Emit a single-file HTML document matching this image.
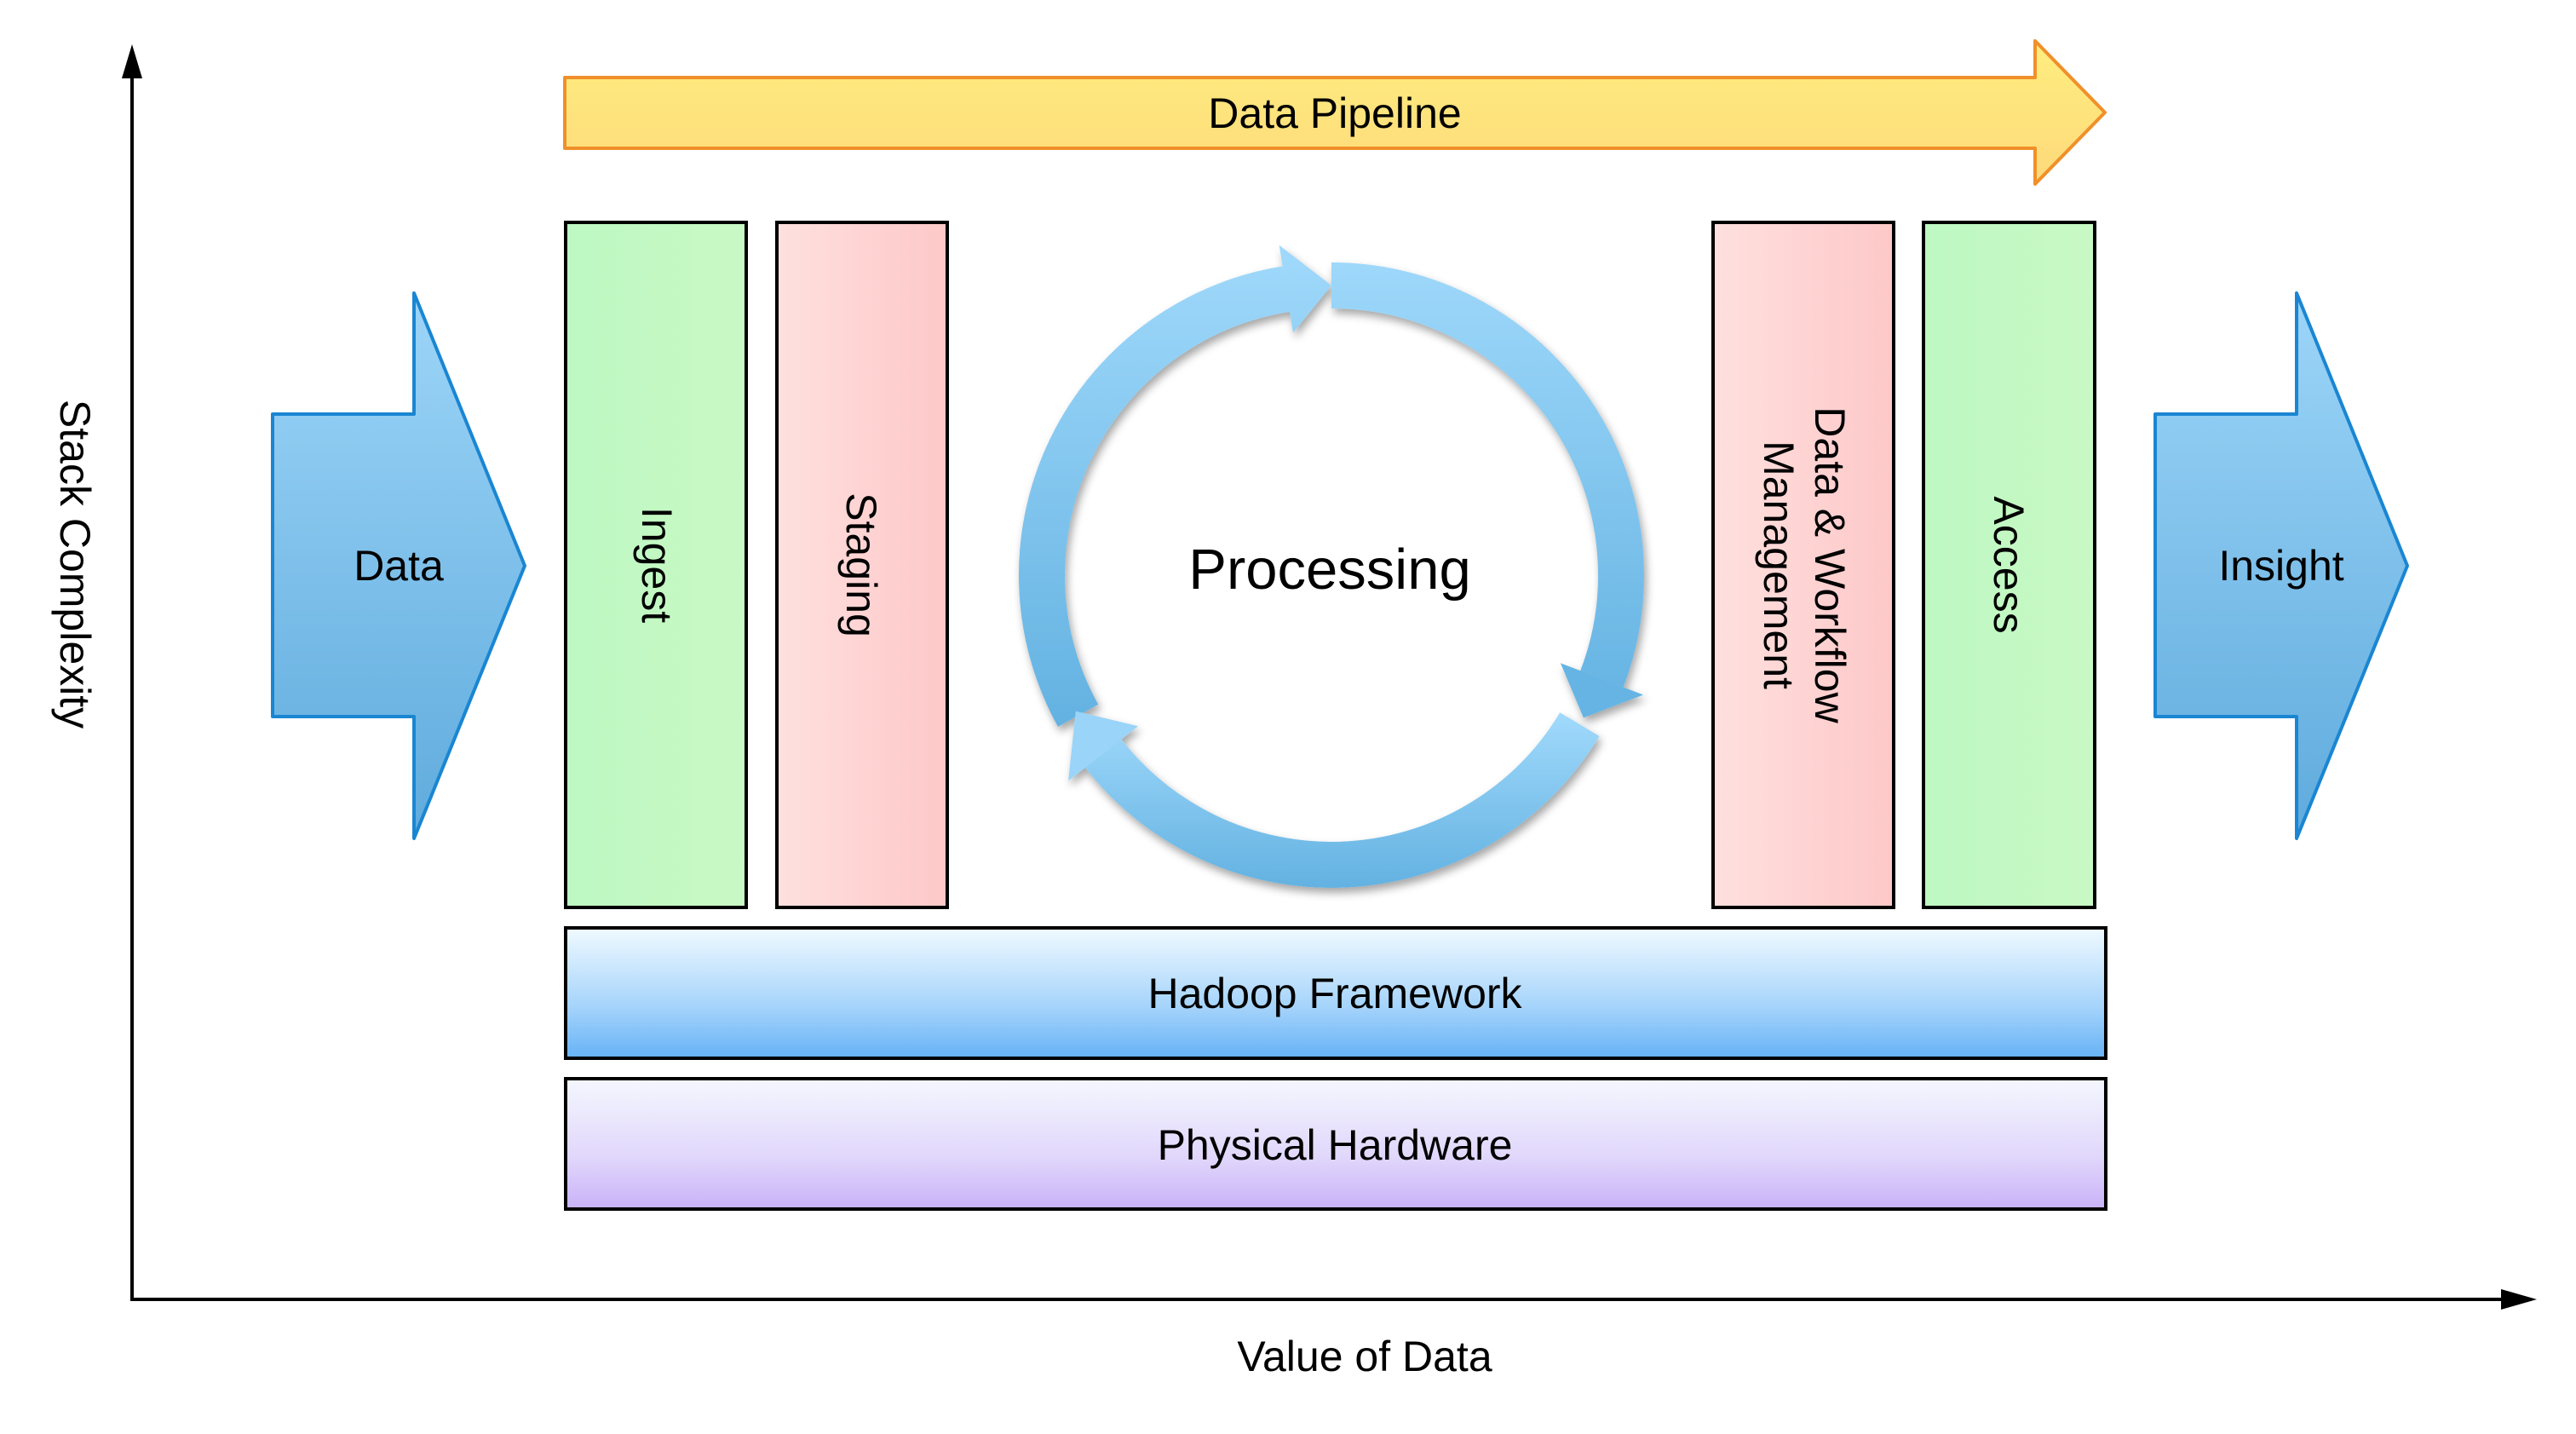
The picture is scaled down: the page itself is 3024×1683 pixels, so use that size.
<!DOCTYPE html>
<html><head><meta charset="utf-8"><style>
html,body{margin:0;padding:0;background:#fff;}
svg{display:block;}
text{font-family:"Liberation Sans",Arial,sans-serif;fill:#000;}
</style></head><body>
<svg width="3024" height="1683" viewBox="0 0 3024 1683" xmlns="http://www.w3.org/2000/svg">
<defs>
<linearGradient id="yel" x1="0" y1="0" x2="0" y2="1"><stop offset="0" stop-color="#ffee80"/><stop offset="1" stop-color="#fdd97a"/></linearGradient>
<linearGradient id="grn" x1="0" y1="0" x2="1" y2="0"><stop offset="0" stop-color="#bdf8c2"/><stop offset="1" stop-color="#c9f9c4"/></linearGradient>
<linearGradient id="pnk" x1="0" y1="0" x2="1" y2="0"><stop offset="0" stop-color="#fee0de"/><stop offset="1" stop-color="#fdc8c8"/></linearGradient>
<linearGradient id="hb" x1="0" y1="0" x2="0" y2="1"><stop offset="0" stop-color="#f0faff"/><stop offset="0.6" stop-color="#a6d4fb"/><stop offset="1" stop-color="#66b2f6"/></linearGradient>
<linearGradient id="pur" x1="0" y1="0" x2="0" y2="1"><stop offset="0" stop-color="#f4f7fe"/><stop offset="0.6" stop-color="#e1d7fb"/><stop offset="1" stop-color="#c9b2f8"/></linearGradient>
<linearGradient id="blk" x1="0" y1="0" x2="0" y2="1"><stop offset="0" stop-color="#9dd5f8"/><stop offset="1" stop-color="#5fabdd"/></linearGradient>
<linearGradient id="ca" gradientUnits="userSpaceOnUse" x1="0" y1="290" x2="0" y2="860"><stop offset="0" stop-color="#a0d9fb"/><stop offset="1" stop-color="#62b1e1"/></linearGradient>
<linearGradient id="cb" gradientUnits="userSpaceOnUse" x1="0" y1="290" x2="0" y2="860"><stop offset="0" stop-color="#a0d9fb"/><stop offset="1" stop-color="#62b1e1"/></linearGradient>
<linearGradient id="cc" gradientUnits="userSpaceOnUse" x1="0" y1="840" x2="0" y2="1045"><stop offset="0" stop-color="#a0d9fb"/><stop offset="1" stop-color="#62b1e1"/></linearGradient>
<filter id="sh" x="-10%" y="-10%" width="120%" height="120%"><feDropShadow dx="3" dy="6" stdDeviation="5" flood-color="#000" flood-opacity="0.35"/></filter>
</defs>

<line x1="155" y1="1525" x2="155" y2="85" stroke="#000" stroke-width="4"/>
<polygon points="155,52 143,92 167,92" fill="#000"/>
<line x1="153" y1="1525" x2="2945" y2="1525" stroke="#000" stroke-width="4"/>
<polygon points="2978,1525 2936,1513 2936,1537" fill="#000"/>
<text x="1602" y="1609" font-size="50" text-anchor="middle">Value of Data</text>
<text transform="translate(71,662) rotate(90)" font-size="50" text-anchor="middle">Stack Complexity</text>

<polygon points="663,91 2389,91 2389,48 2471,132 2389,216 2389,174 663,174" fill="url(#yel)" stroke="#f0902a" stroke-width="4" stroke-linejoin="round"/>
<text x="1567" y="150" font-size="50" text-anchor="middle">Data Pipeline</text>

<rect x="664" y="261" width="212" height="804" fill="url(#grn)" stroke="#000" stroke-width="4"/>
<text transform="translate(754,663) rotate(90)" font-size="50" text-anchor="middle">Ingest</text>
<rect x="912" y="261" width="200" height="804" fill="url(#pnk)" stroke="#000" stroke-width="4"/>
<text transform="translate(994,663) rotate(90)" font-size="50" text-anchor="middle">Staging</text>
<rect x="2011" y="261" width="212" height="804" fill="url(#pnk)" stroke="#000" stroke-width="4"/>
<text transform="translate(2131,663) rotate(90)" font-size="50" text-anchor="middle">Data &amp; Workflow</text>
<text transform="translate(2071,663) rotate(90)" font-size="50" text-anchor="middle">Management</text>
<rect x="2258" y="261" width="201" height="804" fill="url(#grn)" stroke="#000" stroke-width="4"/>
<text transform="translate(2341,663) rotate(90)" font-size="50" text-anchor="middle">Access</text>

<rect x="664" y="1089" width="1808" height="153" fill="url(#hb)" stroke="#000" stroke-width="4"/>
<text x="1567" y="1183" font-size="50" text-anchor="middle">Hadoop Framework</text>
<rect x="664" y="1266" width="1808" height="153" fill="url(#pur)" stroke="#000" stroke-width="4"/>
<text x="1567" y="1361" font-size="50" text-anchor="middle">Physical Hardware</text>

<polygon points="320,486 486,486 486,344 616,664 486,984 486,841 320,841" fill="url(#blk)" stroke="#1a86d2" stroke-width="4" stroke-linejoin="round"/>
<text x="468" y="681" font-size="50" text-anchor="middle">Data</text>
<polygon points="2530,486 2696,486 2696,344 2826,664 2696,984 2696,841 2530,841" fill="url(#blk)" stroke="#1a86d2" stroke-width="4" stroke-linejoin="round"/>
<text x="2678" y="681" font-size="50" text-anchor="middle">Insight</text>

<g filter="url(#sh)">
<path d="M1265.6,839.8 A340,340 0 0 1 1509.8,339.2" fill="none" stroke="url(#ca)" stroke-width="54"/>
<polygon points="1518.0,390.5 1501.7,287.8 1563,335" fill="url(#ca)"/>
<path d="M1563,335 A340,340 0 0 1 1880.4,796.9" fill="none" stroke="url(#cb)" stroke-width="54"/>
<polygon points="1831.9,778.2 1929.0,815.5 1858.9,842.4" fill="#66b4e3"/>
<path d="M1854.4,850.1 A340,340 0 0 1 1295.1,884.3" fill="none" stroke="url(#cc)" stroke-width="54"/>
<polygon points="1336.1,852.3 1254.1,916.4 1262.8,834.6" fill="#9ad4f8"/>
</g>
<text x="1561" y="691" font-size="67" text-anchor="middle">Processing</text>
</svg>
</body></html>
